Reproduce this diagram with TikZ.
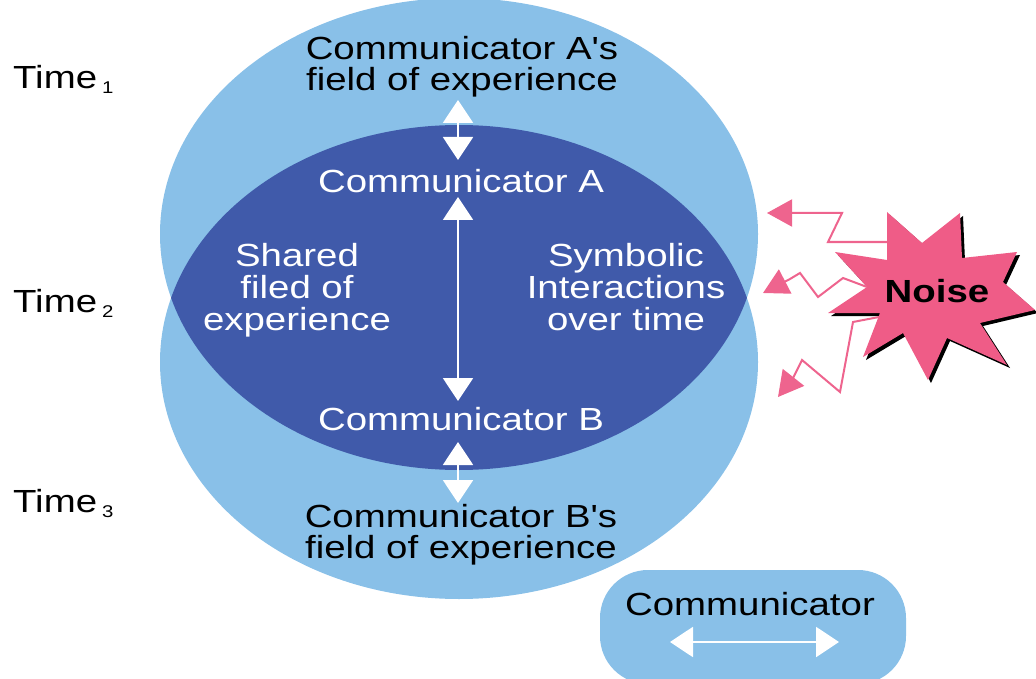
\documentclass[tikz,border=0pt]{standalone}
\usepackage{fontspec}
\setmainfont{Liberation Sans}[FakeStretch=1.2, Ligatures=TeXOff]
\usetikzlibrary{arrows.meta}
\definecolor{lightb}{RGB}{137,192,232}
\definecolor{darkb}{RGB}{64,90,170}
\definecolor{noisepink}{RGB}{239,92,135}
\definecolor{zigpink}{RGB}{238,100,142}
\newcommand\tsubs[1]{\kern5pt\raisebox{-5pt}{\fontsize{17}{17}\selectfont #1}}
\begin{document}
\begin{tikzpicture}[x=1pt,y=-1pt,
  font=\fontsize{32}{31}\selectfont,
  txt/.style={inner sep=0pt, anchor=base},
  wtxt/.style={txt, text=white},
  warrow/.style={white, line width=2pt,
    {Triangle[width=30pt,length=23pt]}-{Triangle[width=30pt,length=23pt]}},
  zig/.style={zigpink, line width=2pt, line join=miter,
    -{Triangle[width=27pt,length=25pt]}},
]
\useasboundingbox (0,0) rectangle (1036,679);

% fields of experience
\fill[lightb] (459,234) ellipse [x radius=299pt, y radius=236pt];
\fill[lightb] (459,362) ellipse [x radius=299pt, y radius=237pt];
\begin{scope}
  \clip (459,234) ellipse [x radius=299pt, y radius=236pt];
  \fill[darkb] (459,362) ellipse [x radius=299pt, y radius=237pt];
\end{scope}

% legend pill
\fill[lightb, rounded corners=48pt] (600,570) rectangle (906,684);

% time labels
\node[txt, anchor=base west] (t1) at (13,89) {Time\tsubs{1}};
\node[txt, anchor=base west] (t2) at (13,312) {Time\tsubs{2}};
\node[txt, anchor=base west] (t3) at (13,512) {Time\tsubs{3}};

% texts
\node[txt] (fa1) at (462,60) {Communicator A's};
\node[txt] (fa2) at (462,91) {field of experience};
\node[wtxt] (ca) at (461,193) {Communicator A};
\node[wtxt] (sh1) at (297,266) {Shared};
\node[wtxt] (sh2) at (297,298) {filed of};
\node[wtxt] (sh3) at (297,330) {experience};
\node[wtxt] (sy1) at (626,266) {Symbolic};
\node[wtxt] (sy2) at (626,298) {Interactions};
\node[wtxt] (sy3) at (626,330) {over time};
\node[wtxt] (cb) at (461,430) {Communicator B};
\node[txt] (fb1) at (461,527) {Communicator B's};
\node[txt] (fb2) at (461,558) {field of experience};
\node[txt] (leg) at (750,615) {Communicator};

% white arrows
\coordinate (a1) at (458,100);
\coordinate (a2) at (458,160);
\coordinate (b1) at (458,197);
\coordinate (b2) at (458,401);
\coordinate (c1) at (458,442);
\coordinate (c2) at (458,503);
\coordinate (l1) at (670,642);
\coordinate (l2) at (839,642);
\draw[warrow] (a1) -- (a2);
\draw[warrow] (b1) -- (b2);
\draw[warrow] (c1) -- (c2);
\draw[warrow] (l1) -- (l2);

% noise star
\def\starpath{(887,212) -- (922,243) -- (960,213) -- (962,258) -- (1017,252) -- (1003,282) -- (1035,310) -- (980,323) -- (1007,365) -- (947,338) -- (928,380) -- (903,333) -- (863,357) -- (880,313) -- (828,313) -- (867,287) -- (835,252) -- (887,260) -- cycle}
\fill[black, shift={(3,3)}] \starpath;
\fill[noisepink] \starpath;
\node[txt, font=\fontsize{32}{31}\selectfont\bfseries] (noise) at (937,302) {Noise};

% noise arrows
\coordinate (n1) at (887,242);
\coordinate (n2) at (867,287);
\coordinate (n3) at (879,317);
\coordinate (e1) at (767,213);
\coordinate (e2) at (763,293);
\coordinate (e3) at (778,397);
\draw[zig] (n1) -- (828,242) -- (842,213) -- (e1);
\draw[zig] (n2) -- (843,278) -- (818,297) -- (800,273) -- (790,279) -- (e2);
\draw[zig] (n3) -- (853,322) -- (840,392) -- (802,360) -- (793,378) -- (e3);
\end{tikzpicture}
\end{document}
